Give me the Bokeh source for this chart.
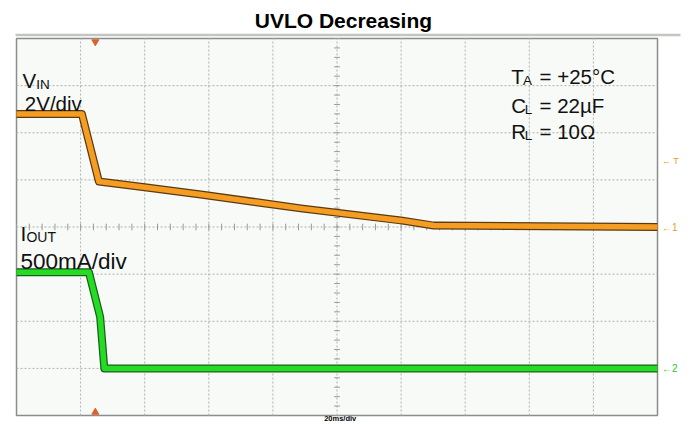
import numpy as np
from bokeh.plotting import figure
from bokeh.models import Range1d, Label
from bokeh.embed import file_html
from bokeh.resources import INLINE

# ---------------- data (read from the scope capture) ----------------
title_text = "UVLO Decreasing"
time_label = "20ms/div"
# time in ms (20 ms/div, 10 divisions)
t_vin = [0.0, 20.4, 25.7, 40.0, 57.5, 88.7, 119.9, 130.2, 200.0]
vin_v = [4.80, 4.80, 1.93, 1.69, 1.38, 0.79, 0.28, 0.06, 0.0]
t_iout = [0.0, 22.6, 26.1, 27.4, 200.0]
iout_ma = [1020, 1020, 545, 0, 0]
trigger_t = 24.6
trigger_level_v = 2.82
vin_scale = 2.0      # V/div, ground at 0 div
iout_scale = 500.0   # mA/div, ground at -3 div
iout_ground_div = -3
x_divs = 10
y_divs = 8
t_per_div = 20.0

FONT = "Liberation Sans"
ORANGE = "#f59d22"
ORANGE_DARK = "#5a3a12"
GREEN = "#24dc24"
GREEN_DARK = "#1c5e1c"
GRID = "#b0b0b0"

# scope screen: 0..200 ms -> x 16..657 px ; -4..4 div -> y 415..38 px
PX_PER_MS = (657 - 16) / 200.0
PX_PER_DIV = (415 - 38) / 8.0
x0 = -16 / PX_PER_MS
x1 = 200 + (689 - 657) / PX_PER_MS
y_top = 4 + 38 / PX_PER_DIV
y_bot = -4 - (424 - 415) / PX_PER_DIV

p = figure(width=689, height=424,
           x_range=Range1d(x0, x1), y_range=Range1d(y_bot, y_top),
           x_axis_location=None, y_axis_location=None,
           output_backend="svg", toolbar_location=None,
           min_border=0,
           background_fill_color="#ffffff", border_fill_color="#ffffff",
           outline_line_color=None)
p.xgrid.visible = False
p.ygrid.visible = False

p.extra_y_ranges = {
    "vin": Range1d(y_bot * vin_scale, y_top * vin_scale),
    "iout": Range1d((y_bot - iout_ground_div) * iout_scale, (y_top - iout_ground_div) * iout_scale),
}

# top grey rule above the screen
p.segment(x0=-0.3, x1=200 + 23 / PX_PER_MS, y0=4 + 3.5 / PX_PER_DIV, y1=4 + 3.5 / PX_PER_DIV,
          line_color="#c4c4c0", line_width=2.5)

# scope screen
p.quad(left=0, right=200, bottom=-4, top=4, fill_color="#f7faf7",
       line_color="#8c8c8c", line_width=1.5)

# graticule
gx = np.arange(1, x_divs) * t_per_div
p.segment(x0=gx, x1=gx, y0=-4, y1=4, line_color=GRID, line_width=1, line_dash="2 2")
gy = np.arange(-3, 4)
p.segment(x0=0, x1=200, y0=gy, y1=gy, line_color=GRID, line_width=1, line_dash="2 2")

# centre cross minor ticks
xt = np.arange(0, 200.01, 4)
p.segment(x0=xt, x1=xt, y0=-0.07, y1=0.07, line_color="#9a9a9a", line_width=1)
yt = np.arange(-4, 4.01, 0.2)
p.segment(x0=100 - 0.9, x1=100 + 0.9, y0=yt, y1=yt, line_color="#9a9a9a", line_width=1)

# traces
p.line(t_vin, vin_v, y_range_name="vin", line_color=ORANGE_DARK, line_width=8, line_join="round")
p.line(t_vin, vin_v, y_range_name="vin", line_color=ORANGE, line_width=5.5, line_join="round")
p.line(t_iout, iout_ma, y_range_name="iout", line_color=GREEN_DARK, line_width=8, line_join="round")
p.line(t_iout, iout_ma, y_range_name="iout", line_color=GREEN, line_width=5.5, line_join="round")

# trigger position markers
p.scatter([trigger_t], [3.93], marker="inverted_triangle", size=7, color="#e0602a")
p.scatter([trigger_t], [-3.93], marker="triangle", size=7, color="#e0602a")


def lab(x, y, text, size=20, color="#111111", style="normal", align="left", baseline="alphabetic", **kw):
    p.add_layout(Label(x=x, y=y, text=text, text_font=FONT, text_font_size=f"{size}px",
                       text_color=color, text_font_style=style, text_align=align,
                       text_baseline=baseline, **kw))


# title and time base
lab(102.0, 4 + (38 - 20) / PX_PER_DIV, title_text, size=21, style="bold", align="center", color="#000000")
lab(101.0, -4 - (422.5 - 415) / PX_PER_DIV, time_label, size=7.5, style="bold", align="center",
    color="#000000", baseline="bottom")

# channel labels
lab(1.87, 3.11, "V", size=20.5)
lab(6.2, 3.03, "IN", size=13.5)
lab(2.6, 2.62, "2V/div", size=20.5)
lab(1.25, -0.14, "I", size=21)
lab(3.1, -0.22, "OUT", size=14)
lab(1.25, -0.73, "500mA/div", size=22.5)

# conditions
lab(154.4, 3.195, "T", size=20.5)
lab(158.0, 3.11, "A", size=13.5)
lab(163.2, 3.195, "= +25°C", size=20.5)
lab(154.4, 2.58, "C", size=20.5)
lab(158.6, 2.49, "L", size=13.5)
lab(163.2, 2.58, "= 22µF", size=20.5)
lab(154.4, 2.03, "R", size=20.5)
lab(158.6, 1.94, "L", size=13.5)
lab(163.2, 2.03, "= 10Ω", size=20.5)

# right-side channel markers
p.add_layout(Label(x=201.4, y=trigger_level_v, y_range_name="vin", text="← T",
                   text_font=FONT, text_font_size="9px", text_color="#e8a020",
                   text_baseline="middle"))
p.add_layout(Label(x=201.4, y=0, y_range_name="vin", text="←1",
                   text_font=FONT, text_font_size="10px", text_color="#e8a020",
                   text_baseline="middle"))
p.add_layout(Label(x=201.4, y=0, y_range_name="iout", text="←2",
                   text_font=FONT, text_font_size="10px", text_color="#30c030",
                   text_baseline="middle"))

open("out.html", "w").write(file_html(p, INLINE))
